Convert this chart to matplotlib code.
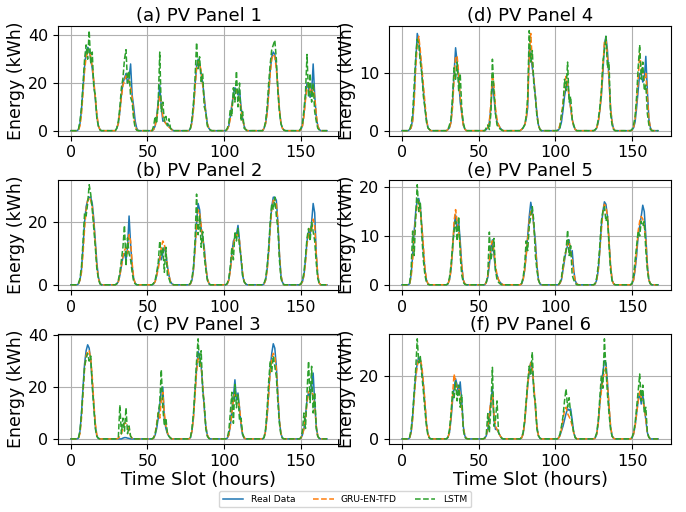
import numpy as np
import matplotlib.pyplot as plt

# Hourly PV energy over one week (168 h). Each day is listed for hours 5..20,
# the night hours are zero.
hours = np.arange(168)
day_start = 5

titles = ["(a) PV Panel 1", "(d) PV Panel 4",
          "(b) PV Panel 2", "(e) PV Panel 5",
          "(c) PV Panel 3", "(f) PV Panel 6"]

# Panel 1
real_1 = [[0.5, 3, 9, 18, 27, 33, 35, 34, 30, 26, 20, 13, 6, 2, 0.5, 0],
          [0, 1, 3, 8, 15, 20, 22, 24, 20, 22, 28, 15, 10, 4, 1, 0],
          [0, 0.5, 2, 6, 12, 19, 10, 4, 4, 3, 3, 2, 1, 0.5, 0, 0],
          [0, 1, 4, 10, 19, 27, 30, 28, 24, 20, 14, 8, 3, 1, 0.2, 0],
          [0, 0.5, 2, 6, 11, 15, 18, 17, 15, 17, 10, 5, 2, 0.5, 0, 0],
          [0, 1, 3, 8, 16, 25, 31, 33, 32, 27, 18, 9, 3, 1, 0.2, 0],
          [0, 0.5, 2, 7, 14, 20, 18, 14, 16, 28, 15, 6, 2, 0.5, 0, 0]]
gru_1 = [[0.3, 2, 7, 16, 25, 31, 33, 33, 31, 27, 21, 14, 7, 2, 0.5, 0],
         [0, 1, 3, 8, 14, 19, 21, 23, 22, 21, 18, 14, 6, 2, 0.3, 0],
         [0, 0.5, 2, 5, 10, 15, 12, 6, 4, 3, 2, 1.5, 1, 0.3, 0, 0],
         [0, 1, 3, 9, 18, 26, 29, 28, 25, 19, 13, 7, 3, 1, 0.2, 0],
         [0, 0.5, 2, 5, 10, 14, 16, 17, 15, 13, 9, 5, 2, 0.5, 0, 0],
         [0, 1, 3, 7, 15, 24, 30, 32, 31, 26, 18, 9, 3, 1, 0.2, 0],
         [0, 0.5, 2, 6, 13, 18, 20, 17, 15, 19, 14, 7, 2, 0.5, 0, 0]]
lstm_1 = [[0.5, 4, 10, 20, 30, 36, 30, 42, 28, 33, 18, 15, 5, 2, 0.3, 0],
          [0, 1, 4, 10, 18, 22, 30, 34, 20, 25, 14, 12, 5, 1, 0.2, 0],
          [0, 2, 6, 3, 12, 33, 8, 12, 4, 6, 2, 5, 1, 0.3, 0, 0],
          [0, 1, 5, 12, 22, 37, 26, 31, 20, 24, 10, 8, 2, 1, 0.2, 0],
          [0, 1, 3, 9, 6, 18, 12, 25, 10, 20, 4, 8, 1, 0.5, 0, 0],
          [0, 1, 4, 10, 20, 28, 34, 36, 38, 30, 16, 8, 3, 1, 0.2, 0],
          [0, 1, 3, 9, 16, 32, 14, 24, 12, 20, 8, 4, 1, 0.3, 0, 0]]

# Panel 4
real_4 = [[0.2, 0.5, 2, 6, 12, 17, 16, 13, 10, 7, 4, 2, 0.5, 0.2, 0, 0],
          [0, 0.2, 0.5, 1.5, 5, 10, 14.5, 12, 9, 5, 3, 1, 0.3, 0, 0, 0],
          [0, 0, 0.2, 0.5, 1.5, 4, 8.5, 6, 3, 1.5, 1, 0.5, 0.2, 0, 0, 0],
          [0, 0.2, 0.5, 1, 2, 4, 14.5, 13, 11, 9, 6, 3, 1, 0.2, 0, 0],
          [0, 0.1, 0.5, 1.5, 3.5, 6, 7.5, 8.5, 6, 4, 2, 0.8, 0.2, 0, 0, 0],
          [0, 0.1, 0.5, 1.5, 3.5, 6, 10, 15, 16.5, 14, 9, 4, 1.5, 0.3, 0, 0],
          [0, 0.1, 0.5, 1.5, 4, 7, 10, 10, 8.5, 9, 13, 7, 2, 0.5, 0, 0]]
gru_4 = [[0.2, 0.5, 1.5, 5, 11, 15, 16.5, 14, 11, 8, 5, 2, 0.5, 0.2, 0, 0],
         [0, 0.2, 0.5, 1.5, 4, 9, 13, 13, 10, 6, 3, 1, 0.3, 0, 0, 0],
         [0, 0, 0.2, 0.5, 1.5, 5, 10, 8, 4, 2, 1, 0.5, 0.2, 0, 0, 0],
         [0, 0.2, 0.5, 1, 2, 5, 13, 17, 12, 9, 6, 3, 1, 0.2, 0, 0],
         [0, 0.2, 1, 2.5, 5, 7.5, 9.5, 8, 6, 4, 2, 0.8, 0.2, 0, 0, 0],
         [0, 0.1, 0.5, 1.5, 3.5, 6.5, 11, 15.5, 16, 13, 9, 4, 1.5, 0.3, 0, 0],
         [0, 0.1, 0.5, 2, 5, 9, 13.5, 11, 10, 9, 10, 6, 2, 0.5, 0, 0]]
lstm_4 = [[0.2, 1, 3, 8, 13, 16, 15, 12, 10, 6, 4, 1.5, 0.5, 0.2, 0, 0],
          [0, 0.2, 1, 2, 6, 11, 9, 12, 7, 10, 4, 1.5, 0.3, 0, 0, 0],
          [0, 0, 0.5, 1, 0.2, 3, 12.5, 7, 3, 1, 0.5, 0.3, 0.1, 0, 0, 0],
          [0, 0.2, 0.5, 1, 2.5, 6, 17.5, 12, 14, 8, 6, 2.5, 1, 0.2, 0, 0],
          [0, 0.3, 0.5, 3, 4, 9, 7, 12, 5, 6, 2, 1, 0.2, 0, 0, 0],
          [0, 0.2, 0.5, 2, 4, 7, 12, 14, 16.5, 11, 12, 3, 1, 0.2, 0, 0],
          [0, 0.2, 1, 2.5, 6, 11, 15, 9, 12, 7, 8, 3, 1, 0.2, 0, 0]]

# Panel 2
real_2 = [[0.3, 1.5, 5, 12, 20, 25, 27, 28, 28, 26, 21, 14, 7, 2.5, 0.5, 0],
          [0, 0.3, 1, 3, 6, 9, 10, 8, 12, 22, 13, 6, 2, 0.5, 0, 0],
          [0, 0.3, 1, 3, 6, 9, 8, 10, 12, 10, 6, 3, 1, 0.3, 0, 0],
          [0, 0.3, 1.5, 5, 12, 20, 26, 24, 18, 15, 12, 6, 2, 0.5, 0, 0],
          [0, 0.3, 1.5, 5, 10, 14, 15, 16, 19, 14, 8, 3, 1, 0.3, 0, 0],
          [0, 0.3, 1.5, 5, 11, 19, 25, 28, 28, 27, 20, 10, 3, 0.8, 0, 0],
          [0, 0.2, 1, 3, 8, 14, 17, 16, 20, 26, 23, 10, 3, 0.5, 0, 0]]
gru_2 = [[0.3, 1.5, 4, 10, 18, 24, 27, 28, 27, 25, 20, 13, 6, 2, 0.5, 0],
         [0, 0.3, 1, 3, 6, 9, 11, 12, 10, 16, 14, 7, 2, 0.5, 0, 0],
         [0, 0.3, 1, 3, 5, 8, 12, 14, 13, 10, 6, 3, 1, 0.3, 0, 0],
         [0, 0.3, 1.5, 5, 11, 19, 24, 23, 19, 15, 11, 6, 2, 0.5, 0, 0],
         [0, 0.3, 1.5, 4.5, 9, 13, 15, 16, 16, 14, 9, 4, 1, 0.3, 0, 0],
         [0, 0.3, 1.5, 4.5, 10, 18, 24, 27, 27, 26, 20, 10, 3, 0.8, 0, 0],
         [0, 0.2, 1, 3, 7, 13, 16, 18, 17, 21, 19, 10, 3, 0.5, 0, 0]]
lstm_2 = [[0.5, 2, 6, 14, 23, 22, 26, 32, 29, 24, 18, 12, 5, 2, 0.3, 0],
          [0, 0.3, 1.5, 4, 8, 12, 19, 6, 15, 10, 8, 4, 1, 0.3, 0, 0],
          [0, 0.5, 1.5, 4, 7, 14, 9, 12, 4, 12, 3, 2, 0.5, 0.2, 0, 0],
          [0, 0.5, 2, 6, 14, 29, 16, 22, 12, 17, 9, 5, 1.5, 0.3, 0, 0],
          [0, 0.5, 2, 6, 12, 8, 17, 14, 18, 12, 9, 3, 1, 0.3, 0, 0],
          [0, 0.5, 2, 6, 12, 20, 26, 24, 28, 22, 18, 8, 2, 0.5, 0, 0],
          [0, 0.3, 1.5, 4, 9, 15, 18, 14, 20, 17, 14, 7, 2, 0.3, 0, 0]]

# Panel 5
real_5 = [[0.2, 2, 6, 11, 15, 17.5, 17.7, 16, 12, 7, 3, 1, 0.2, 0, 0, 0],
          [0, 0.2, 1, 3, 7, 12, 14.3, 11, 13, 9, 4, 1, 0.2, 0, 0, 0],
          [0, 0, 0.5, 1.5, 4, 7, 9.2, 6, 3, 2, 1, 0.5, 0.2, 0, 0, 0],
          [0, 0.2, 1, 3, 6, 10, 14, 16.9, 15, 12, 9, 4, 1, 0.2, 0, 0],
          [0, 0, 0.3, 1, 3, 5, 7, 8, 9.2, 6, 7, 3, 0.8, 0.2, 0, 0],
          [0, 0.2, 1, 3, 7, 12, 15, 17, 16.5, 14, 9, 4, 1, 0.2, 0, 0],
          [0, 0.2, 1, 3, 6, 10, 12, 14, 16.3, 15, 10, 4, 1, 0.2, 0, 0]]
gru_5 = [[0.2, 1.5, 5, 10, 14, 16.5, 17, 15, 12, 8, 3.5, 1, 0.2, 0, 0, 0],
         [0, 0.2, 1, 3, 7, 13, 15.4, 13, 11, 8, 4, 1, 0.2, 0, 0, 0],
         [0, 0, 0.5, 2, 5, 8, 9, 7, 4, 2, 1, 0.5, 0.2, 0, 0, 0],
         [0, 0.2, 1, 3, 6, 9.5, 13, 15, 15, 12, 8, 4, 1, 0.2, 0, 0],
         [0, 0, 0.3, 1, 3, 5.5, 7, 8.5, 9, 7, 5, 2.5, 0.8, 0.2, 0, 0],
         [0, 0.2, 1, 3, 7, 11, 15, 16.5, 16, 14, 9, 4, 1, 0.2, 0, 0],
         [0, 0.2, 1, 3.5, 7, 11, 13, 14, 13.5, 12, 9, 4, 1, 0.2, 0, 0]]
lstm_5 = [[0.3, 3, 11, 6, 14, 20.5, 15, 17, 10, 5, 2, 0.5, 0.1, 0, 0, 0],
          [0, 0.2, 1.5, 4, 8, 11, 13, 9, 14, 6, 2, 0.5, 0.1, 0, 0, 0],
          [0, 0, 0.5, 2, 10.8, 5, 7, 9.5, 3, 1, 0.5, 0.2, 0, 0, 0, 0],
          [0, 0.3, 1.5, 4, 9, 7, 12, 14, 16, 13, 6, 3, 1, 0.2, 0, 0],
          [0, 0, 0.5, 1.5, 4, 6, 7, 11.2, 6, 8, 2, 1, 0.3, 0, 0, 0],
          [0, 0.3, 1.5, 4, 8, 13, 15, 16, 13, 14, 8, 3, 0.8, 0.2, 0, 0],
          [0, 0.3, 2, 5, 8, 11, 10, 13, 12, 13, 7, 3, 0.8, 0.2, 0, 0]]

# Panel 3
real_3 = [[0.3, 3, 10, 20, 29, 34, 36.3, 35, 30, 22, 13, 5, 1, 0.2, 0, 0],
          [0, 0, 0, 0, 0, 0.3, 0.5, 0.5, 0.3, 0.2, 0, 0, 0, 0, 0, 0],
          [0, 0.3, 1.5, 4, 8, 13, 19, 20, 8, 4, 2, 1, 0.3, 0, 0, 0],
          [0, 0.5, 3, 9, 18, 27, 33.7, 32, 28, 20, 12, 5, 1.5, 0.3, 0, 0],
          [0, 0.3, 1.5, 5, 11, 16, 22.8, 15, 17.7, 12, 5, 1.5, 0.3, 0, 0, 0],
          [0, 0.5, 3, 9, 18, 27, 33, 36.7, 35, 28, 17, 7, 2, 0.3, 0, 0],
          [0, 0.3, 1.5, 4, 9, 15, 18, 16, 20, 25.4, 14, 5, 1, 0.2, 0, 0]]
gru_3 = [[0.3, 2, 8, 18, 27, 32, 34, 34, 31, 24, 14, 6, 1.5, 0.3, 0, 0],
         [0, 0, 0.3, 1, 2, 4, 6, 6, 5, 3, 1, 0.3, 0, 0, 0, 0],
         [0, 0.3, 2, 6, 10, 8, 15, 18, 10, 5, 2.5, 1, 0.3, 0, 0, 0],
         [0, 0.5, 3, 8, 17, 26, 31, 30, 28, 21, 12, 5, 1.5, 0.3, 0, 0],
         [0, 0.3, 1.5, 5, 10, 15, 18, 17, 16, 12, 6, 2, 0.5, 0, 0, 0],
         [0, 0.5, 3, 9, 17, 26, 31, 33, 32, 27, 17, 7, 2, 0.3, 0, 0],
         [0, 0.3, 1.5, 4, 8, 14, 18, 19, 18, 17, 13, 5, 1, 0.2, 0, 0]]
lstm_3 = [[0.3, 3, 10, 19, 28, 31, 33, 30, 32, 20, 12, 4, 1, 0.2, 0, 0],
          [0, 0, 0.5, 13, 2, 8, 3, 12, 2, 5, 1, 0.3, 0, 0, 0, 0],
          [0, 0.5, 2, 5, 10, 14, 26.7, 12, 5, 8, 2, 1, 0.3, 0, 0, 0],
          [0, 0.5, 4, 10, 20, 30, 38.6, 28, 34, 18, 14, 4, 1, 0.2, 0, 0],
          [0, 0.5, 3, 10, 18, 6, 21, 12, 17, 7, 8, 2, 0.5, 0, 0, 0],
          [0, 0.5, 4, 12, 22, 30, 26, 32, 28, 24, 14, 6, 1.5, 0.3, 0, 0],
          [0, 0.5, 3, 10, 4, 18, 30, 14, 28, 10, 18, 4, 1, 0.2, 0, 0]]

# Panel 6
real_6 = [[0.3, 2, 7, 14, 20, 24, 25.8, 25, 22, 17, 11, 5, 1.5, 0.3, 0, 0],
          [0, 0.5, 2, 6, 12, 16, 19, 17, 14, 18, 12, 4, 1, 0.2, 0, 0],
          [0, 0.2, 1, 3, 7, 12, 15.8, 6, 3, 3, 2, 1, 0.3, 0, 0, 0],
          [0, 0.3, 1.5, 5, 11, 17, 21, 24.2, 22, 16, 10, 4, 1, 0.2, 0, 0],
          [0, 0.2, 1, 2.5, 4, 6, 8, 9.5, 9, 9.5, 6, 2, 0.5, 0, 0, 0],
          [0, 0.3, 1.5, 5, 11, 17, 21, 24.7, 24, 18, 10, 4, 1, 0.2, 0, 0],
          [0, 0.3, 1.5, 4, 8, 12, 14.7, 11, 14, 10, 6, 2, 0.5, 0, 0, 0]]
gru_6 = [[0.3, 2, 6, 13, 19, 23, 25, 25, 23, 18, 12, 5, 1.5, 0.3, 0, 0],
         [0, 0.5, 2, 7, 14, 20.5, 18, 16, 16, 14, 10, 4, 1, 0.2, 0, 0],
         [0, 0.2, 1, 4, 8, 12, 14, 8, 4, 3, 2, 1, 0.3, 0, 0, 0],
         [0, 0.3, 1.5, 5, 11, 17, 22, 24, 22, 17, 10, 4, 1, 0.2, 0, 0],
         [0, 0.2, 1, 3, 6, 9, 10, 8, 7, 6, 4, 2, 0.5, 0, 0, 0],
         [0, 0.3, 1.5, 5, 11, 15, 19, 21, 22.6, 17, 11, 4, 1, 0.2, 0, 0],
         [0, 0.3, 1.5, 4, 8, 12, 15, 13, 12, 10, 6, 2, 0.5, 0, 0, 0]]
lstm_6 = [[0.5, 3, 8, 15, 22, 31.6, 24, 26, 20, 15, 9, 4, 1, 0.2, 0, 0],
          [0, 0.5, 3, 8, 15, 13, 18, 12, 17, 10, 14, 3, 0.5, 0.1, 0, 0],
          [0, 0.3, 1.5, 8, 2, 10, 22.6, 4, 6, 12, 2, 1, 0.2, 0, 0, 0],
          [0, 0.5, 2, 6, 12, 18, 23, 20, 27.4, 14, 12, 3, 1, 0.2, 0, 0],
          [0, 0.2, 1.5, 4, 7, 12, 15.8, 10, 13, 8, 5, 2, 0.3, 0, 0, 0],
          [0, 0.5, 2, 6, 13, 20, 16, 31.6, 22, 14, 8, 3, 0.8, 0.2, 0, 0],
          [0, 0.5, 2, 5, 10, 15, 20.5, 12, 17, 8, 10, 2, 0.5, 0, 0, 0]]

panels = [(real_1, gru_1, lstm_1), (real_4, gru_4, lstm_4),
          (real_2, gru_2, lstm_2), (real_5, gru_5, lstm_5),
          (real_3, gru_3, lstm_3), (real_6, gru_6, lstm_6)]


def to_week(days):
    # put each day's daylight values into the 168 hour series
    y = np.zeros(len(hours))
    for d, vals in enumerate(days):
        s = 24 * d + day_start
        y[s:s + len(vals)] = vals
    return y


fig, axes = plt.subplots(3, 2, figsize=(6.86, 5.12), dpi=100)
plt.subplots_adjust(left=0.0845, right=0.978, top=0.950, bottom=0.133,
                    wspace=0.175, hspace=0.40)

for i, ax in enumerate(axes.flat):
    real, gru, lstm = panels[i]
    ax.plot(hours, to_week(real), color='tab:blue', lw=1.1, label='Real Data')
    ax.plot(hours, to_week(gru), color='tab:orange', lw=1.1, ls='--', label='GRU-EN-TFD')
    ax.plot(hours, to_week(lstm), color='tab:green', lw=1.1, ls='--', label='LSTM')
    ax.set_title(titles[i], fontsize=13, pad=3)
    ax.set_ylabel('Energy (kWh)', fontsize=12.5, labelpad=2)
    ax.tick_params(labelsize=11.5)
    ax.set_xticks([0, 50, 100, 150])
    ax.grid(True)
    if i >= 4:
        ax.set_xlabel('Time Slot (hours)', fontsize=13, labelpad=2)

handles, labels = axes[0, 0].get_legend_handles_labels()
fig.legend(handles, labels, loc='lower center', ncol=3, fontsize=6.6,
           bbox_to_anchor=(0.503, 0.0), handlelength=2.2)

plt.savefig('out.png')
